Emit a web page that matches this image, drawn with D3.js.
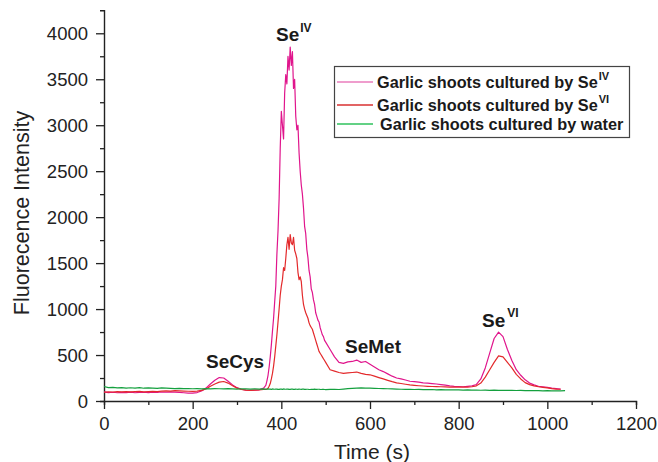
<!DOCTYPE html>
<html>
<head>
<meta charset="utf-8">
<script src="https://cdn.jsdelivr.net/npm/d3@7"></script>
<style>
  body { margin: 0; background: #fff; }
  svg { display: block; font-family: "Liberation Sans", Arial, Helvetica, sans-serif; }
</style>
</head>
<body>
<div class="canvas"></div>
<script>
// time points (s)
const times = [
  0,10,20,30,40,50,60,70,80,90,100,110,120,130,140,150,160,170,180,190,200,210,220,230,240,250,260,270,280,290,300,310,320,330,340,350,360,
  365,367.5,370,372.5,375,377.5,380,382.5,385,387.5,390,392.5,395,397.5,400,402.5,405,407.5,410,412.5,415,417.5,420,422.5,425,427.5,
  430,432.5,435,437.5,440,442.5,445,447.5,450,452.5,455,457.5,460,462.5,465,467.5,470,472.5,475,477.5,480,482.5,485,487.5,490,492.5,495,497.5,500,
  510,520,530,540,550,560,570,580,590,600,610,620,630,640,650,660,670,680,690,700,710,720,730,740,750,760,770,780,790,800,
  810,820,830,840,850,860,870,880,890,900,910,920,930,940,950,960,970,980,990,1000,1010,1020,1030,1040
];

// Garlic shoots cultured by Se(IV)
const seIV = [
  100,92,95,90,94,92,96,90,93,95,91,96,94,98,95,100,97,94,90,86,85,92,110,140,185,225,255,250,215,175,145,128,118,115,118,122,140,
  170,220,280,370,480,610,760,900,1080,1250,1600,1850,2200,2750,3150,3000,2850,3350,3550,3450,3750,3600,3850,3650,3800,3400,
  3500,3100,2950,3000,2700,2500,2350,2250,2100,1900,1820,1650,1560,1420,1350,1220,1180,1100,1050,960,920,880,860,800,760,720,700,660,640,
  560,480,420,410,425,430,445,420,430,400,370,340,320,295,270,250,240,228,215,210,205,198,195,190,185,178,172,165,160,158,
  155,160,165,180,240,360,520,680,750,700,560,440,340,280,230,195,175,160,155,148,140,135,130,null
];

// Garlic shoots cultured by Se(VI)
const seVI = [
  95,100,98,102,100,103,99,101,104,100,102,105,103,107,110,108,112,110,108,106,105,108,115,130,160,185,205,212,195,165,140,125,118,116,118,120,125,
  125,130,140,160,190,240,300,380,480,600,720,860,1000,1150,1250,1320,1450,1420,1550,1700,1780,1650,1810,1720,1700,1780,
  1640,1600,1550,1400,1320,1350,1300,1150,1050,1000,960,930,900,850,820,800,780,740,700,660,620,580,540,520,500,480,460,440,420,
  340,325,310,300,305,310,315,300,290,285,270,255,240,225,210,198,190,182,175,170,166,163,160,158,156,155,153,152,150,150,
  152,150,155,165,195,260,340,420,490,480,420,360,290,240,200,178,165,155,148,142,135,130,128,null
];

// Garlic shoots cultured by water
const water = [
  158,145,148,142,146,140,144,141,145,139,143,140,138,142,140,137,135,138,134,136,133,135,132,134,131,135,133,131,134,132,130,133,131,129,132,130,131,
  130,128,132,130,129,127,131,129,128,130,130,127,127,130,129,126,131,129,128,130,130,127,127,129,129,126,
  126,129,128,126,130,128,127,129,129,126,126,128,128,125,125,128,127,126,129,127,126,128,128,126,125,127,127,125,124,
  126,128,125,130,135,138,140,142,139,141,138,136,134,133,131,130,128,127,126,125,126,124,123,125,122,123,121,122,120,121,
  119,120,118,119,117,118,116,118,115,117,115,116,114,115,113,114,112,113,111,112,110,111,110,112
];

const xTicks = [0, 200, 400, 600, 800, 1000, 1200];
const yTicks = [0, 500, 1000, 1500, 2000, 2500, 3000, 3500, 4000];

const seriesNames = ['Garlic shoots cultured by Se', 'Garlic shoots cultured by Se', 'Garlic shoots cultured by water'];
const seriesSup = ['IV', 'VI', ''];
const seriesColors = ['#e0158c', '#e3292b', '#14a03e'];
const legendColors = ['#ea7cbc', '#d83030', '#2fc25c'];

const width = 658, height = 462;
const svg = d3.select('.canvas').append('svg')
  .attr('width', width)
  .attr('height', height);

const x = d3.scaleLinear().domain([0, 1200]).range([104, 636]);
const y = d3.scaleLinear().domain([0, 4250]).range([401, 10.3]);

// axes
const xAxisGroup = svg.append('g').attr('transform', 'translate(0,401)');
xAxisGroup.call(d3.axisBottom(x).tickValues(d3.range(0, 1201, 100)).tickSize(4).tickFormat(''));
xAxisGroup.call(g => g.selectAll('.tick').filter(d => xTicks.includes(d)).select('line').attr('y2', 8));
xAxisGroup.selectAll('.tick').filter(d => xTicks.includes(d)).append('text')
  .attr('y', 29).attr('text-anchor', 'middle').attr('fill', '#222')
  .style('font-size', '18.5px').text(d => d);

const yAxisGroup = svg.append('g').attr('transform', 'translate(104,0)');
yAxisGroup.call(d3.axisLeft(y).tickValues(d3.range(0, 4001, 250)).tickSize(4).tickFormat(''));
yAxisGroup.call(g => g.selectAll('.tick').filter(d => yTicks.includes(d)).select('line').attr('x2', -8));
yAxisGroup.selectAll('.tick').filter(d => yTicks.includes(d)).append('text')
  .attr('x', -16).attr('dy', '0.35em').attr('text-anchor', 'end').attr('fill', '#222')
  .style('font-size', '18.5px').text(d => d);

svg.selectAll('.domain').attr('stroke', '#222').attr('stroke-width', 1.4);
svg.selectAll('.tick line').attr('stroke', '#222').attr('stroke-width', 1.3);

// axis titles
svg.append('text')
  .attr('x', 372).attr('y', 459).attr('text-anchor', 'middle')
  .attr('fill', '#222').style('font-size', '21px').text('Time (s)');
svg.append('text')
  .attr('transform', 'translate(29,213) rotate(-90)').attr('text-anchor', 'middle')
  .attr('fill', '#222').style('font-size', '21.5px').text('Fluorecence Intensity');

// lines
const allSeries = [seIV, seVI, water];
const line = d3.line()
  .defined(d => d[1] !== null)
  .x(d => x(d[0]))
  .y(d => y(d[1]));

allSeries.forEach((vals, i) => {
  svg.append('path')
    .datum(times.map((t, j) => [t, vals[j]]))
    .attr('fill', 'none')
    .attr('stroke', seriesColors[i])
    .attr('stroke-width', 1.2)
    .attr('stroke-linejoin', 'round')
    .attr('d', line);
});

// peak labels
function peakLabel(px, py, main, sup, supDx, supDy) {
  const t = svg.append('text')
    .attr('x', px).attr('y', py)
    .attr('fill', '#1a1a1a').style('font-weight', 'bold').style('font-size', '19px');
  t.append('tspan').text(main);
  if (sup) {
    t.append('tspan').attr('dx', supDx).attr('dy', supDy).style('font-size', '12px').text(sup);
  }
}
peakLabel(276, 41, 'Se', 'IV', 1, -9);
peakLabel(206, 368, 'SeCys');
peakLabel(345, 353, 'SeMet');
peakLabel(482, 327, 'Se', 'VI', 2, -10);

// legend
const legend = svg.append('g');
legend.append('rect')
  .attr('x', 334.5).attr('y', 66.5).attr('width', 295).attr('height', 71)
  .attr('fill', '#fff').attr('stroke', '#444').attr('stroke-width', 1.2);

const legendRows = [82, 105, 124];
seriesNames.forEach((name, i) => {
  legend.append('line')
    .attr('x1', 337).attr('x2', 373)
    .attr('y1', legendRows[i]).attr('y2', legendRows[i])
    .attr('stroke', legendColors[i]).attr('stroke-width', 1.5);
  const t = legend.append('text')
    .attr('x', i === 2 ? 380 : 377).attr('y', legendRows[i] + 6)
    .attr('fill', '#1a1a1a').style('font-weight', 'bold').style('font-size', '16.3px');
  t.append('tspan').text(name);
  if (seriesSup[i]) {
    t.append('tspan').attr('dy', -8).attr('dx', 1).style('font-size', '11px').text(seriesSup[i]);
  }
});
</script>
</body>
</html>
